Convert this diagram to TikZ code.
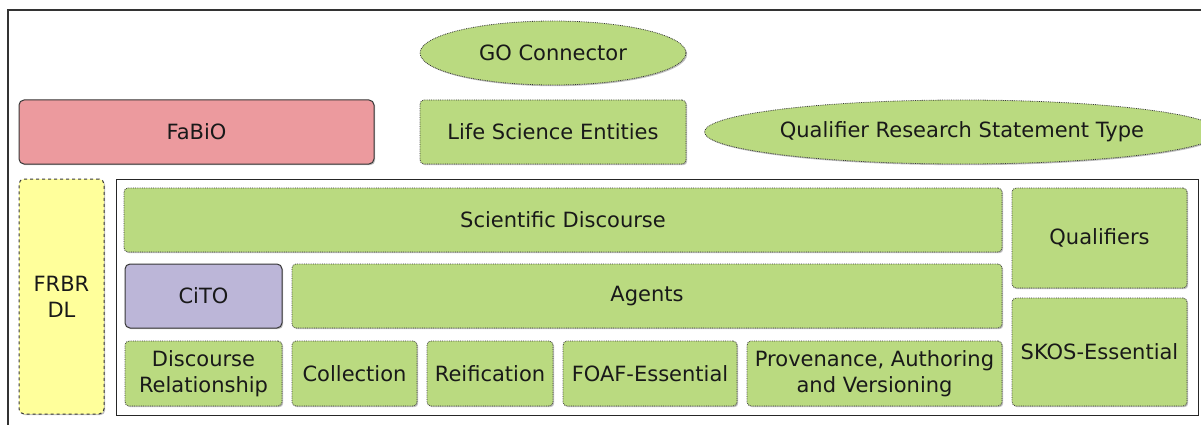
\documentclass[tikz,border=0pt]{standalone}
\usepackage{fontspec}
\setmainfont{DejaVu Sans}
\usepackage{tikz}
\usetikzlibrary{shapes.geometric,shadows}

\definecolor{leaf}{RGB}{186,218,128}
\definecolor{rose}{RGB}{236,154,158}
\definecolor{lilac}{RGB}{188,182,216}
\definecolor{lemon}{RGB}{255,255,155}
\definecolor{rim}{RGB}{55,55,55}

\begin{document}
\begin{tikzpicture}[x=1pt, y=-1pt,
    every node/.style={font=\fontsize{21}{26}\selectfont, text=black!90,
      align=center, inner sep=0pt},
    shade/.style={drop shadow={shadow xshift=1.2pt, shadow yshift=-1.2pt,
      opacity=0.25, fill=black}},
    box/.style={rectangle, rounded corners=4pt, fill=leaf, draw=rim,
      densely dotted, line width=0.8pt, shade},
    oval/.style={ellipse, fill=leaf, draw=rim, densely dotted,
      line width=0.8pt, shade},
    solidbox/.style={rectangle, rounded corners=5pt, draw=rim,
      line width=1pt, shade}]
  \useasboundingbox (0,0) rectangle (1201,425);
  % outer frame, runs off the page at right and bottom
  \draw[line width=2.5pt, black!80] (8,425) -- (8,10) -- (1201,10);

  % top layer
  \node[oval, minimum width=266pt, minimum height=64pt] (go) at (553,53) {GO Connector};
  \node[solidbox, fill=rose, minimum width=355pt, minimum height=64pt] (fabio) at (196.5,132) {FaBiO};
  \node[box, minimum width=266pt, minimum height=64pt] (lse) at (553,132) {Life Science Entities};
  \node[oval, minimum width=472pt, minimum height=64pt] (qrst) at (962,132) {Qualifier Research Statement Type};

  % left column
  \node[rectangle, rounded corners=5pt, fill=lemon, draw=rim, dashed,
    line width=1pt, shade, minimum width=85pt, minimum height=235pt] (frbr) at (61.5,296.5) {FRBR\\DL};

  % core frame
  \node[rectangle, draw=black!85, line width=1pt, minimum width=1082pt,
    minimum height=236pt] (core) at (657,297) {};

  \node[box, minimum width=878pt, minimum height=64pt] (sd) at (563,220) {Scientific Discourse};
  \node[box, minimum width=175pt, minimum height=100pt] (qual) at (1099.5,238) {Qualifiers};
  \node[box, minimum width=175pt, minimum height=108pt] (skos) at (1099.5,352) {SKOS-Essential};
  \node[solidbox, fill=lilac, minimum width=157pt, minimum height=64pt] (cito) at (203.5,296) {CiTO};
  \node[box, minimum width=710pt, minimum height=64pt] (agents) at (647,296) {Agents};

  % bottom row
  \node[box, minimum width=157pt, minimum height=65pt] (disc) at (203.5,373.5) {Discourse\\Relationship};
  \node[box, minimum width=125pt, minimum height=65pt] (coll) at (354.5,373.5) {Collection};
  \node[box, minimum width=126pt, minimum height=65pt] (reif) at (490,373.5) {Reification};
  \node[box, minimum width=174pt, minimum height=65pt] (foaf) at (650,373.5) {FOAF-Essential};
  \node[box, minimum width=255pt, minimum height=65pt] (prov) at (874.5,373.5) {Provenance, Authoring\\and Versioning};
\end{tikzpicture}
\end{document}
